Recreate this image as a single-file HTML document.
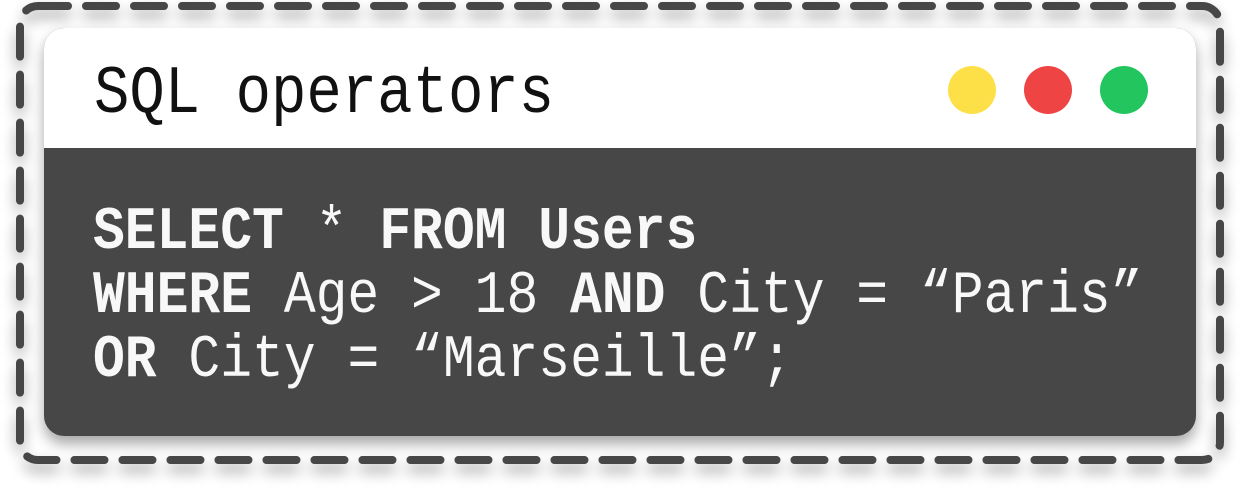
<!DOCTYPE html>
<html><head><meta charset="utf-8"><style>
html,body{margin:0;padding:0;background:#fff;}
svg{display:block;}
text{font-family:"Liberation Mono","DejaVu Sans Mono",monospace;}
</style></head><body>
<svg width="1240" height="496" viewBox="0 0 1240 496" xmlns="http://www.w3.org/2000/svg">
<defs>
<filter id="sh" x="-10%" y="-10%" width="120%" height="130%">
<feGaussianBlur in="SourceAlpha" stdDeviation="7"/>
<feOffset dx="0" dy="8" result="b"/>
<feComponentTransfer><feFuncA type="linear" slope="0.35"/></feComponentTransfer>
<feMerge><feMergeNode/><feMergeNode in="SourceGraphic"/></feMerge>
</filter>
<clipPath id="cc"><rect x="44" y="28" width="1152" height="408" rx="20"/></clipPath>
</defs>
<rect x="20" y="6" width="1200" height="454" rx="18" fill="none" stroke="#474747" stroke-width="8" stroke-linecap="round" stroke-dasharray="30 18" filter="url(#sh)"/>
<g filter="url(#sh)">
<rect x="44" y="28" width="1152" height="408" rx="20" fill="#474747"/>
</g>
<g clip-path="url(#cc)">
<rect x="44" y="28" width="1152" height="120" fill="#fff"/>
</g>
<text transform="translate(94,112) scale(1,1.15)" font-size="59" fill="#111">SQL operators</text>
<circle cx="972" cy="90" r="24" fill="#FDE047"/>
<circle cx="1048" cy="90" r="24" fill="#EF4444"/>
<circle cx="1124" cy="90" r="24" fill="#22C55E"/>
<g fill="#f8f8f8" font-size="53">
<text transform="translate(93,248) scale(1,1.14)"><tspan font-weight="bold">SELECT</tspan> * <tspan font-weight="bold">FROM Users</tspan></text>
<text transform="translate(93,312) scale(1,1.14)"><tspan font-weight="bold">WHERE</tspan> Age &gt; 18 <tspan font-weight="bold">AND</tspan> City = “Paris”</text>
<text transform="translate(93,376) scale(1,1.14)"><tspan font-weight="bold">OR</tspan> City = “Marseille”;</text>
</g>
</svg>
</body></html>
